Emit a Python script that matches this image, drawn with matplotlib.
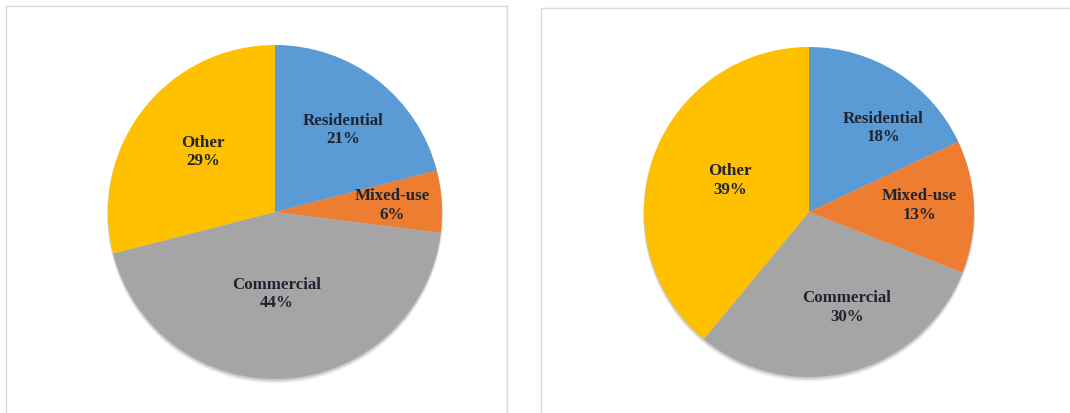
import matplotlib
matplotlib.use("Agg")
import matplotlib.pyplot as plt
import numpy as np
from matplotlib.patches import Rectangle, Circle

categories = ["Residential", "Mixed-use", "Commercial", "Other"]
left_values = [21, 6, 44, 29]
right_values = [18, 13, 30, 39]
colors = ["#5B9BD5", "#ED7D31", "#A5A5A5", "#FFC000"]

# label offsets (fractions of radius) relative to pie centre
left_label_pos = [(0.41, 0.49), (0.70, 0.04), (0.01, -0.49), (-0.43, 0.36)]
right_label_pos = [(0.45, 0.51), (0.67, 0.04), (0.23, -0.58), (-0.48, 0.19)]

W, H = 1070, 413
fig = plt.figure(figsize=(W / 100, H / 100), dpi=100)
fig.patch.set_facecolor("white")

# panel borders
fig.add_artist(Rectangle((6 / W, -0.05), (507 - 6) / W, (H - 6) / H + 0.05,
                         transform=fig.transFigure, fill=False,
                         edgecolor="#d9d9d9", linewidth=1.0))
fig.add_artist(Rectangle((541 / W, -0.05), (W + 5 - 541) / W, (H - 8) / H + 0.05,
                         transform=fig.transFigure, fill=False,
                         edgecolor="#d9d9d9", linewidth=1.0))


def draw_pie(cx, cy, r, values, label_pos):
    pad = 8
    ax = fig.add_axes([(cx - r - pad) / W, (H - cy - r - pad) / H,
                       2 * (r + pad) / W, 2 * (r + pad) / H])
    lim = (r + pad) / r
    # soft shadow
    for k, a in [(0.020, 0.05), (0.014, 0.07), (0.008, 0.10)]:
        ax.add_patch(Circle((0.0, -k), 1.0 + k * 0.3, color="black",
                            alpha=a, linewidth=0, zorder=0))
    ax.pie(values, colors=colors, startangle=90, counterclock=False,
           radius=1.0, wedgeprops=dict(linewidth=0, zorder=2))
    ax.set_xlim(-lim, lim)
    ax.set_ylim(-lim, lim)
    ax.set_aspect("equal")
    ax.axis("off")
    for cat, v, (dx, dy) in zip(categories, values, label_pos):
        ax.text(dx, dy, f"{cat}\n{v}%", ha="center", va="center",
                fontsize=12.2, fontweight="bold", family="Liberation Serif",
                color="#1e2430", linespacing=1.2, zorder=5)


draw_pie(275, 212, 167, left_values, left_label_pos)
draw_pie(809, 212, 165, right_values, right_label_pos)

fig.savefig("out.png", dpi=100, facecolor="white")
